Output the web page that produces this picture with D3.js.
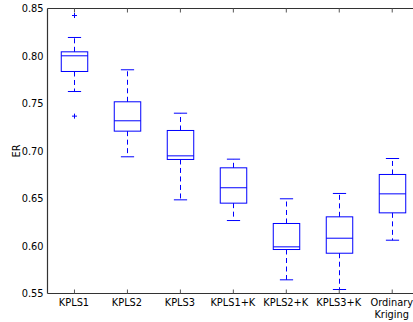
<!DOCTYPE html>
<html><head><meta charset="utf-8">
<script src="https://cdn.jsdelivr.net/npm/d3@7"></script>
<style>
html,body{margin:0;padding:0;background:#fff;}
svg{display:block;font-family:"DejaVu Sans",sans-serif;}
</style></head>
<body>
<svg id="chart" width="413" height="322"></svg>
<script>
const categories = ["KPLS1","KPLS2","KPLS3","KPLS1+K","KPLS2+K","KPLS3+K","Ordinary\nKriging"];
const whiskerLow  = [0.7626,0.6939,0.6486,0.6268,0.5644,0.5542,0.6061];
const q1          = [0.7837,0.7209,0.6911,0.6451,0.5963,0.5924,0.6349];
const median      = [0.8002,0.7318,0.6949,0.6613,0.5991,0.6082,0.6549];
const q3          = [0.8044,0.7518,0.7216,0.6823,0.6237,0.6307,0.6753];
const whiskerHigh = [0.8195,0.7855,0.7398,0.6914,0.6497,0.6553,0.6921];
const fliers      = [[0.8426,0.7367],[],[],[],[],[],[]];
const yTicks = [0.55,0.60,0.65,0.70,0.75,0.80,0.85];
const yLabel = "ER";

(function(){
const svg = d3.select("#chart");
const mLeft = 47.5, mTop = 8.5, mBottom = 293.5, mRight = 418.2;
const positions = categories.map((c,i)=>i+1);
const x = d3.scaleLinear().domain([0.5,7.5]).range([mLeft,mRight]);
const y = d3.scaleLinear().domain([0.55,0.85]).range([mBottom,mTop]);
const step = x(2)-x(1);
const boxW = step*0.5, capW = step*0.25;
const blue = "#0000ff";
const fontSize = "9.8px";

const data = categories.map((c,i)=>({c,i,pos:positions[i],lo:whiskerLow[i],q1:q1[i],med:median[i],q3:q3[i],hi:whiskerHigh[i],fl:fliers[i]}));

const g = svg.append("g");
data.forEach(d=>{
  const cx = Math.round(x(d.pos))+0.5;
  const gg = g.append("g").attr("stroke",blue).attr("stroke-width",1).attr("fill","none");
  gg.append("line").attr("x1",cx).attr("x2",cx).attr("y1",y(d.q3)).attr("y2",y(d.hi)).attr("stroke-dasharray","5,3.5");
  gg.append("line").attr("x1",cx).attr("x2",cx).attr("y1",y(d.q1)).attr("y2",y(d.lo)).attr("stroke-dasharray","5,3.5");
  gg.append("line").attr("x1",cx-capW/2).attr("x2",cx+capW/2).attr("y1",y(d.hi)).attr("y2",y(d.hi));
  gg.append("line").attr("x1",cx-capW/2).attr("x2",cx+capW/2).attr("y1",y(d.lo)).attr("y2",y(d.lo));
  gg.append("rect").attr("x",cx-boxW/2).attr("y",y(d.q3)).attr("width",boxW).attr("height",y(d.q1)-y(d.q3));
  gg.append("line").attr("x1",cx-boxW/2).attr("x2",cx+boxW/2).attr("y1",y(d.med)).attr("y2",y(d.med));
  d.fl.forEach(v=>{
    const fy = y(v);
    gg.append("line").attr("x1",cx-2.5).attr("x2",cx+2.5).attr("y1",fy).attr("y2",fy);
    gg.append("line").attr("x1",cx).attr("x2",cx).attr("y1",fy-2.5).attr("y2",fy+2.5);
  });
});

const frame = svg.append("g").attr("stroke","#333").attr("stroke-width",1.2).attr("fill","none");
frame.append("line").attr("x1",mLeft).attr("x2",mLeft).attr("y1",mTop).attr("y2",mBottom);
frame.append("line").attr("x1",mLeft).attr("x2",413).attr("y1",mTop).attr("y2",mTop);
frame.append("line").attr("x1",mLeft).attr("x2",413).attr("y1",mBottom).attr("y2",mBottom);

const xAxis = d3.axisBottom(x).tickValues(positions).tickSize(-4).tickFormat(()=>"");
const xg = svg.append("g").attr("transform",`translate(0,${mBottom})`).call(xAxis);
xg.select(".domain").remove();
xg.selectAll(".tick line").attr("stroke","#555");
const xTop = d3.axisTop(x).tickValues(positions).tickSize(-4).tickFormat(()=>"");
const xt = svg.append("g").attr("transform",`translate(0,${mTop})`).call(xTop);
xt.select(".domain").remove();
xt.selectAll(".tick line").attr("stroke","#555");

data.forEach(d=>{
  const lines = d.c.split("\n");
  const t = svg.append("text").attr("x",x(d.pos)).attr("y",306).attr("text-anchor","middle")
    .attr("font-size",fontSize).attr("fill","#000");
  lines.forEach((l,k)=>t.append("tspan").attr("x",x(d.pos)).attr("dy",k===0?0:12.3).text(l));
});

const yAxis = d3.axisLeft(y).tickValues(yTicks).tickSize(0).tickPadding(4).tickFormat(d3.format(".2f"));
const yg = svg.append("g").attr("transform",`translate(${mLeft},0)`).call(yAxis);
yg.select(".domain").remove();
yg.selectAll("text").attr("font-size",fontSize).attr("font-family","DejaVu Sans").attr("fill","#000");

svg.append("text").attr("transform",`translate(19.5,${(mTop+mBottom)/2}) rotate(-90)`)
  .attr("text-anchor","middle").attr("font-size",fontSize).attr("fill","#000").text(yLabel);
})();
</script>
</body></html>
